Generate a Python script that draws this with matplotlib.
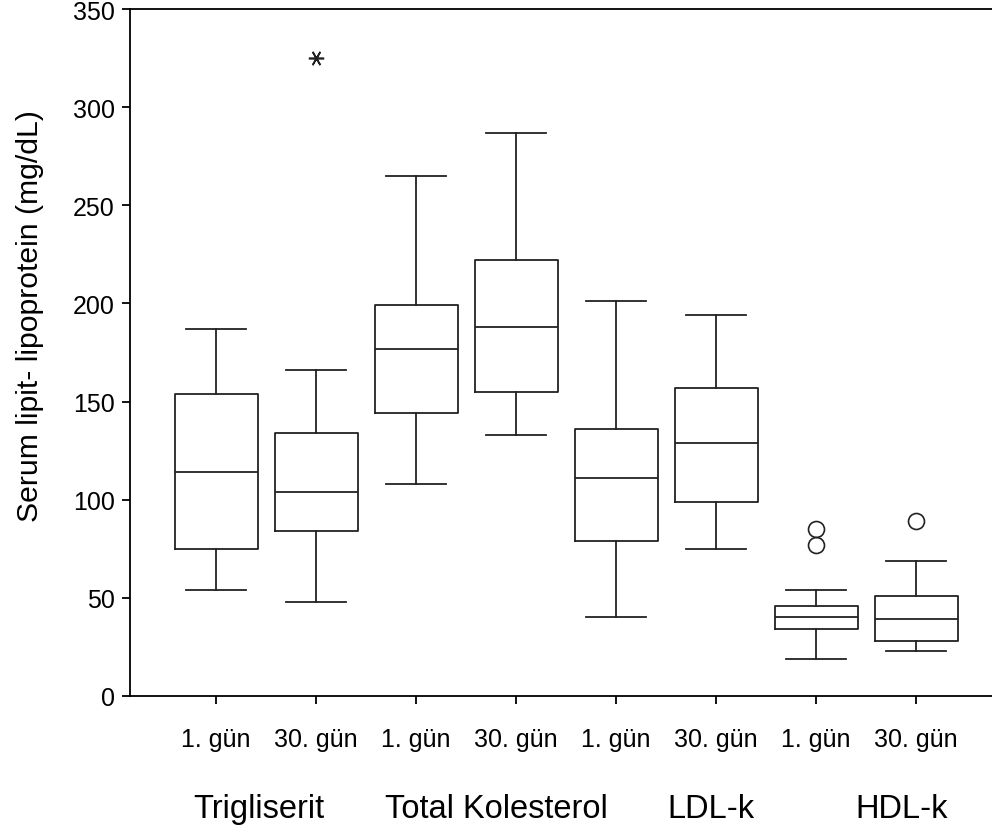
import numpy as np
import matplotlib.pyplot as plt

plt.rcParams['font.family'] = ['Liberation Sans', 'DejaVu Sans']

# box statistics (mg/dL)
tick_labels = ["1. gün", "30. gün"] * 4
groups = ["Trigliserit", "Total Kolesterol", "LDL-k", "HDL-k"]
group_x = [1.43, 3.80, 5.95, 7.86]

whis_low = [54, 48, 108, 133, 40, 75, 19, 23]
q1 = [75, 84, 144, 155, 79, 99, 34, 28]
medians = [114, 104, 177, 188, 111, 129, 40, 39]
q3 = [154, 134, 199, 222, 136, 157, 46, 51]
whis_high = [187, 166, 265, 287, 201, 194, 54, 69]

# outliers: circles, extremes: asterisks
circle_out = [[], [], [], [], [], [], [85, 77], [89]]
star_out = [[], [325], [], [], [], [], [], []]

stats = []
for i in range(len(medians)):
    stats.append({
        "med": medians[i], "q1": q1[i], "q3": q3[i],
        "whislo": whis_low[i], "whishi": whis_high[i],
        "fliers": circle_out[i],
    })

fig = plt.figure(figsize=(9.92, 8.29), dpi=100)
ax = fig.add_axes([130 / 992, 1 - 697 / 829, 1 - 130 / 992, (697 - 10) / 829])

pos = np.arange(1, len(medians) + 1)
lw = 1.3
ax.bxp(stats, positions=pos, widths=0.83, capwidths=0.6,
       boxprops=dict(color="#222222", linewidth=lw),
       whiskerprops=dict(color="#222222", linewidth=lw),
       capprops=dict(color="#222222", linewidth=lw),
       medianprops=dict(color="#222222", linewidth=lw),
       flierprops=dict(marker="o", markersize=11.5, markerfacecolor="none",
                       markeredgecolor="#222222", markeredgewidth=1.2))

for p, vals in zip(pos, star_out):
    if vals:
        ax.plot([p] * len(vals), vals, linestyle="none", marker=(6, 2, 90),
                markersize=11, color="#222222", markeredgewidth=1.2)

ax.set_xlim(0.14, 8.76)
ax.set_ylim(0, 350)
ax.set_yticks(np.arange(0, 351, 50))
ax.set_xticks(pos)
ax.set_xticklabels(tick_labels)

ax.spines["right"].set_visible(False)
for s in ["left", "bottom", "top"]:
    ax.spines[s].set_linewidth(1.3)
ax.tick_params(axis="y", direction="out", length=6, width=1.3, labelsize=18, pad=5)
ax.tick_params(axis="x", direction="out", length=6, width=1.3, labelsize=18, pad=16)

fig.text(30 / 992, 1 - 316 / 829, "Serum lipit- lipoprotein (mg/dL)",
         rotation=90, ha="center", va="center", fontsize=21.7)

for gx, name in zip(group_x, groups):
    ax.annotate(name, xy=(gx, 1 - 818 / 829), xycoords=("data", "figure fraction"),
                ha="center", va="baseline", fontsize=23.5)

fig.savefig("out.png", dpi=100)
